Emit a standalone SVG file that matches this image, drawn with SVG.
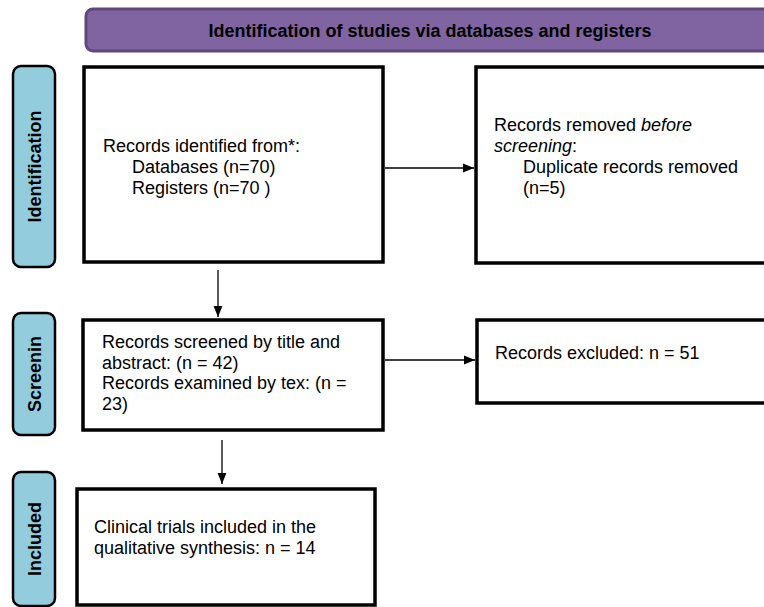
<svg xmlns="http://www.w3.org/2000/svg" width="764" height="607" viewBox="0 0 764 607">
<style>
.box{fill:#fff;stroke:#000;stroke-width:3.5}
.side{fill:#93CDDD;stroke:#000;stroke-width:2.5}
.t{font-family:"Liberation Sans",Arial,sans-serif;font-size:18px;fill:#000}
.st{font-family:"Liberation Sans",Arial,sans-serif;font-size:18px;font-weight:bold;fill:#000}
.c{stroke:#000;stroke-width:1.3;fill:none;marker-end:url(#ah)}
</style>
<defs>
<marker id="ah" viewBox="0 0 10 10" refX="10" refY="5" markerWidth="11" markerHeight="11" markerUnits="userSpaceOnUse" orient="auto">
<path d="M0,1 L10,5 L0,9 Z" fill="#000"/>
</marker>
</defs>
<g id="header">
<rect x="86" y="9" width="700" height="42" rx="7" fill="#8064A2" stroke="#5F497A" stroke-width="3"/>
<text x="430" y="37" text-anchor="middle" class="st">Identification of studies via databases and registers</text>
</g>
<g id="lbl-identification">
<rect class="side" x="13" y="66" width="42" height="201" rx="8"/>
<text class="st" transform="translate(40.5,166.5) rotate(-90)" text-anchor="middle">Identification</text>
</g>
<g id="lbl-screening">
<rect class="side" x="13" y="313" width="42" height="122" rx="8"/>
<text class="st" transform="translate(40.5,374) rotate(-90)" text-anchor="middle">Screenin</text>
</g>
<g id="lbl-included">
<rect class="side" x="13" y="472" width="42" height="134" rx="8"/>
<text class="st" transform="translate(40.5,539) rotate(-90)" text-anchor="middle">Included</text>
</g>
<g id="n-identified">
<rect class="box" x="84" y="67" width="299" height="195"/>
<text class="t" x="103" y="152">Records identified from*:</text>
<text class="t" x="132" y="173">Databases (n=70)</text>
<text class="t" x="132" y="194">Registers (n=70 )</text>
</g>
<g id="n-removed">
<rect class="box" x="476" y="67" width="310" height="196"/>
<text class="t" x="494" y="131">Records removed <tspan font-style="italic">before</tspan></text>
<text class="t" x="494" y="152"><tspan font-style="italic">screening</tspan>:</text>
<text class="t" x="523" y="173">Duplicate records removed</text>
<text class="t" x="523" y="194">(n=5)</text>
</g>
<g id="n-screened">
<rect class="box" x="83" y="320" width="300" height="110"/>
<text class="t" x="102" y="348">Records screened by title and</text>
<text class="t" x="102" y="368.5">abstract: (n = 42)</text>
<text class="t" x="102" y="389">Records examined by tex: (n =</text>
<text class="t" x="102" y="409.5">23)</text>
</g>
<g id="n-excluded">
<rect class="box" x="477" y="320" width="310" height="83"/>
<text class="t" x="495" y="359">Records excluded: n = 51</text>
</g>
<g id="n-included">
<rect class="box" x="77" y="489" width="298" height="116"/>
<text class="t" x="94" y="533">Clinical trials included in the</text>
<text class="t" x="94" y="554">qualitative synthesis: n = 14</text>
</g>
<g id="connectors">
<line class="c" x1="385" y1="168" x2="474" y2="168"/>
<line class="c" x1="218" y1="270" x2="218" y2="317"/>
<line class="c" x1="385" y1="360" x2="475" y2="360"/>
<line class="c" x1="222" y1="440" x2="222" y2="484"/>
</g>
</svg>
